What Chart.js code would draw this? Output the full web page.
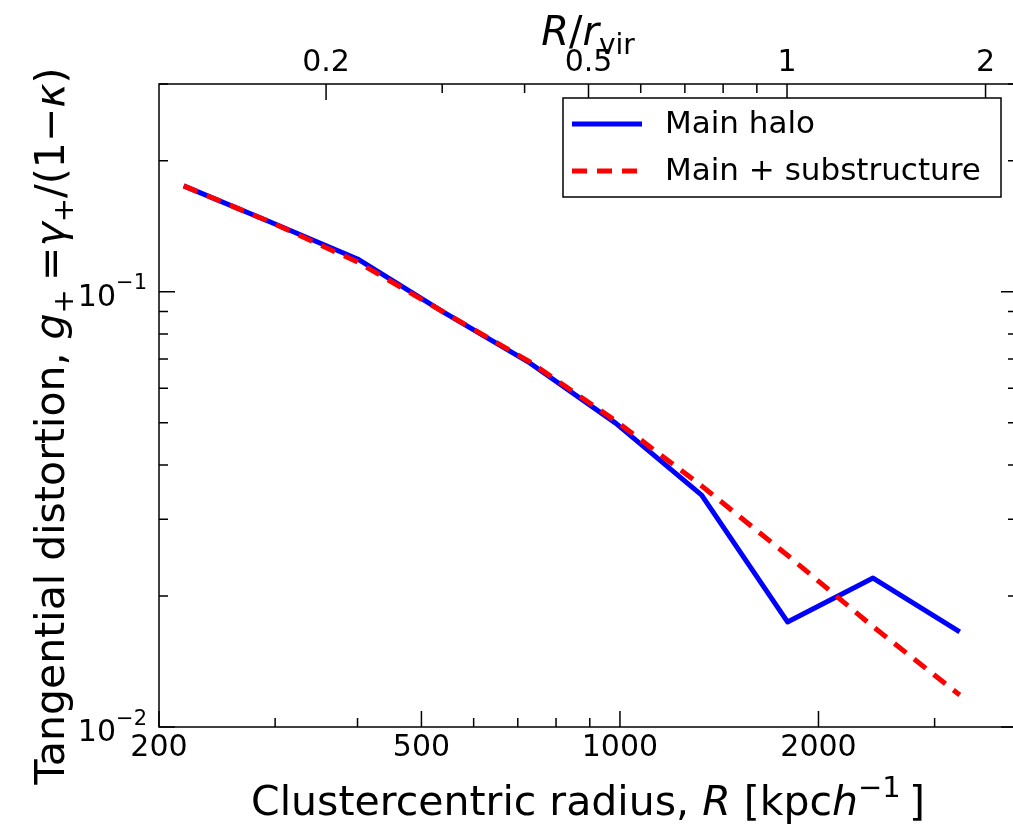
<!DOCTYPE html>
<html>
<head>
<meta charset="utf-8">
<script src="https://cdn.jsdelivr.net/npm/chart.js@4.4.1/dist/chart.umd.min.js"></script>
<style>
  html, body { margin: 0; padding: 0; background: #fff; overflow: hidden; }
  #wrap { width: 1030px; height: 824px; position: relative; }
</style>
</head>
<body>
<div id="wrap"><canvas id="shearChart"></canvas></div>
<script>
// clustercentric radius of each bin [kpc/h]
const radius = [218, 295, 400, 540, 730, 985, 1330, 1795, 2420, 3275];
// tangential distortion g+ for the two models
const mainHalo = [0.175, 0.1446, 0.1189, 0.0898, 0.0686, 0.0499, 0.0341, 0.01743, 0.02199, 0.01653];
const mainPlusSub = [0.175, 0.1446, 0.1170, 0.0898, 0.0690, 0.0505, 0.0358, 0.0248, 0.0170, 0.01184];

const rVir = 1792;

const xTicks = [200, 300, 400, 500, 600, 700, 800, 900, 1000, 2000, 3000, 4000];
const xLabels = [200, 500, 1000, 2000];
const yTicks = [0.01, 0.02, 0.03, 0.04, 0.05, 0.06, 0.07, 0.08, 0.09, 0.1, 0.2, 0.3];
const yLabels = [0.01, 0.1];
const yExponents = ['\u22122', '\u22121'];
const topTicks = [0.2, 0.3, 0.4, 0.5, 0.6, 0.7, 0.8, 0.9, 1, 2];
const topLabels = [0.2, 0.5, 1, 2];

const FONT = '"DejaVu Sans", "Liberation Sans", sans-serif';

// rich text helper: parts = [{t, it, sc, dy}]
function drawRich(ctx, parts, x, y, size, align) {
    const fontFor = p => (p.it ? 'italic ' : '') + Math.round(size * (p.sc || 1)) + 'px ' + FONT;
    let total = 0;
    parts.forEach(p => {
        ctx.font = fontFor(p);
        p.w = ctx.measureText(p.t).width;
        total += p.w;
    });
    let cx = x;
    if (align === 'center') cx = x - total / 2;
    if (align === 'right') cx = x - total;
    ctx.textAlign = 'left';
    ctx.textBaseline = 'alphabetic';
    parts.forEach(p => {
        ctx.font = fontFor(p);
        ctx.fillText(p.t, cx, y + (p.dy || 0) * size);
        cx += p.w;
    });
}

const xTitle = [
    { t: 'Clustercentric radius, ' }, { t: 'R', it: true }, { t: ' [kpc' },
    { t: 'h', it: true }, { t: '\u22121', sc: 0.7, dy: -0.45 }, { t: '\u2009]' }
];
const yTitle = [
    { t: 'Tangential distortion, ' }, { t: 'g', it: true }, { t: '+', sc: 0.7, dy: 0.22 },
    { t: '\u2009=' }, { t: '\u03b3', it: true }, { t: '+', sc: 0.7, dy: 0.22 },
    { t: '/(1\u2212' }, { t: '\u03ba', it: true }, { t: ')' }
];
const topTitle = [
    { t: 'R', it: true }, { t: '/' }, { t: 'r', it: true }, { t: 'vir', sc: 0.7, dy: 0.22 }
];

const framePlugin = {
    id: 'frame',
    afterDraw(chart) {
        const ctx = chart.ctx;
        const a = chart.chartArea;
        const xs = chart.scales.x, ys = chart.scales.y, ts = chart.scales.x2;
        ctx.save();
        ctx.strokeStyle = '#000';
        ctx.lineWidth = 1.5;

        // inward tick marks
        ctx.beginPath();
        xTicks.forEach(v => {
            const px = xs.getPixelForValue(v);
            const len = xLabels.includes(v) ? 16 : 9;
            ctx.moveTo(px, a.bottom); ctx.lineTo(px, a.bottom - len);
        });
        topTicks.forEach(v => {
            const px = ts.getPixelForValue(v);
            const len = topLabels.includes(v) ? 16 : 9;
            ctx.moveTo(px, a.top); ctx.lineTo(px, a.top + len);
        });
        yTicks.forEach(v => {
            const py = ys.getPixelForValue(v);
            const len = yLabels.includes(v) ? 16 : 9;
            ctx.moveTo(a.left, py); ctx.lineTo(a.left + len, py);
            ctx.moveTo(a.right, py); ctx.lineTo(a.right - len, py);
        });
        ctx.stroke();
        ctx.strokeRect(a.left, a.top, a.right - a.left, a.bottom - a.top);

        // y tick labels 10^-1, 10^-2
        ctx.fillStyle = '#000';
        yLabels.forEach((v, i) => {
            const py = ys.getPixelForValue(v);
            drawRich(ctx, [{ t: '10' }, { t: yExponents[i], sc: 0.7, dy: -0.55 }], a.left - 12, py + 14, 30, 'right');
        });

        // axis titles
        drawRich(ctx, xTitle, (a.left + a.right) / 2, 815, 41, 'center');
        drawRich(ctx, topTitle, (a.left + a.right) / 2, 45, 40, 'center');
        ctx.save();
        ctx.translate(64, 426);
        ctx.rotate(-Math.PI / 2);
        drawRich(ctx, yTitle, 0, 0, 41, 'center');
        ctx.restore();

        // legend box, upper right inside the axes
        const lx = a.right - 16 - 438, ly = a.top + 14, lw = 438, lh = 99;
        ctx.fillStyle = '#fff';
        ctx.fillRect(lx, ly, lw, lh);
        ctx.strokeRect(lx, ly, lw, lh);
        const order = [0, 1];
        order.forEach((di, row) => {
            const ds = chart.data.datasets[di];
            const cy = ly + 26 + row * 47;
            ctx.save();
            ctx.strokeStyle = ds.borderColor;
            ctx.lineWidth = ds.borderWidth;
            ctx.setLineDash(ds.borderDash || []);
            ctx.beginPath();
            ctx.moveTo(lx + 9, cy);
            ctx.lineTo(lx + 79, cy);
            ctx.stroke();
            ctx.restore();
            ctx.fillStyle = '#000';
            ctx.font = '31px ' + FONT;
            ctx.textAlign = 'left';
            ctx.textBaseline = 'middle';
            ctx.fillText(ds.label, lx + 102, cy + 1);
        });
        ctx.restore();
    }
};

const ctx = document.getElementById('shearChart').getContext('2d');
new Chart(ctx, {
    type: 'line',
    data: {
        datasets: [
            {
                label: 'Main halo',
                data: radius.map((r, i) => ({ x: r, y: mainHalo[i] })),
                borderColor: '#0000ff',
                borderWidth: 5,
                pointRadius: 0,
                borderJoinStyle: 'round',
                tension: 0,
                order: 2
            },
            {
                label: 'Main + substructure',
                data: radius.map((r, i) => ({ x: r, y: mainPlusSub[i] })),
                borderColor: '#ff0000',
                borderWidth: 5,
                borderDash: [15, 10],
                pointRadius: 0,
                tension: 0,
                order: 1
            }
        ]
    },
    options: {
        responsive: true,
        maintainAspectRatio: false,
        animation: false,
        layout: { padding: { left: 0, right: 13, top: 0, bottom: 0 } },
        plugins: {
            legend: { display: false },
            tooltip: { enabled: false }
        },
        scales: {
            x: {
                type: 'logarithmic',
                position: 'bottom',
                min: 200,
                max: 4000,
                afterBuildTicks: s => { s.ticks = xTicks.map(v => ({ value: v })); },
                afterFit: s => { s.height = 97; },
                grid: { display: false, drawTicks: false },
                border: { display: false },
                ticks: {
                    autoSkip: false,
                    maxRotation: 0,
                    padding: 3,
                    color: '#000',
                    font: { family: FONT, size: 30 },
                    callback: v => xLabels.includes(v) ? String(v) : ''
                }
            },
            x2: {
                type: 'logarithmic',
                position: 'top',
                min: 200 / rVir,
                max: 4000 / rVir,
                afterBuildTicks: s => { s.ticks = topTicks.map(v => ({ value: v })); },
                afterFit: s => { s.height = 84; },
                grid: { display: false, drawTicks: false },
                border: { display: false },
                ticks: {
                    autoSkip: false,
                    maxRotation: 0,
                    padding: 3,
                    color: '#000',
                    font: { family: FONT, size: 30 },
                    callback: v => topLabels.includes(v) ? String(v) : ''
                }
            },
            y: {
                type: 'logarithmic',
                position: 'left',
                min: 0.01,
                max: 0.3,
                afterBuildTicks: s => { s.ticks = yTicks.map(v => ({ value: v })); },
                afterFit: s => { s.width = 159; },
                grid: { display: false, drawTicks: false },
                border: { display: false },
                ticks: { display: false }
            }
        }
    },
    plugins: [framePlugin]
});
</script>
</body>
</html>
